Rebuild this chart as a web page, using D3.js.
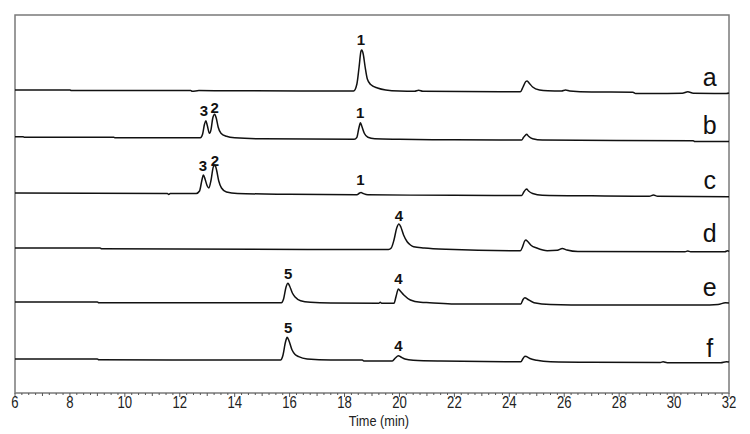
<!DOCTYPE html>
<html>
<head>
<meta charset="utf-8">
<script src="https://cdn.jsdelivr.net/npm/d3@7"></script>
<style>
  body { margin: 0; background: #fff; }
</style>
</head>
<body>
<script>
// trace names, top to bottom
const traceNames = ['a', 'b', 'c', 'd', 'e', 'f'];

// where each trace's baseline sits (signal units, 0 = bottom of frame)
const traceOffset = [303, 255.7, 200, 145, 91, 34];

// [time (min), signal above own baseline]
const traceA = [[6,0],[8,0],[8.05,-0.5],[12.4,-0.5],[12.45,-1.2],[12.7,-0.6],[16.4,-1],[18.33,-1],[18.45,6],[18.53,23],[18.6,39],[18.63,40],[18.68,36],[18.75,23],[18.83,11],[18.95,5.5],[19.2,2],[19.5,0],[20,-1],[20.55,-1.2],[20.7,-0.2],[20.85,-1.3],[23.7,-1.7],[24.4,-1.8],[24.5,3],[24.6,8.5],[24.65,9],[24.72,7],[24.85,3],[25.1,0],[25.4,-0.8],[25.9,-1],[26.05,0],[26.2,-1],[27,-2],[28.5,-2.2],[28.6,-3.5],[30.3,-3.3],[30.5,-1.8],[30.7,-3.3],[31.9,-3.5],[32,-3]];
const traceB = [[6,0.5],[6.3,0.5],[6.35,0],[9.6,0],[9.65,-0.5],[12.75,-0.5],[12.83,3],[12.9,13],[12.95,16.5],[13.0,12],[13.08,4],[13.14,8],[13.2,19],[13.27,23],[13.33,19],[13.4,10],[13.5,4],[13.7,1],[14.0,-0.5],[15,-1.5],[18.35,-2],[18.45,0],[18.52,9],[18.58,14.5],[18.63,11],[18.72,4],[18.85,0],[19.1,-1.5],[20,-2],[22,-2.5],[24.45,-2.8],[24.52,0],[24.6,2.5],[24.63,3],[24.7,1],[24.85,-1.5],[25.2,-2.8],[30.7,-3.5],[30.75,-4.2],[32,-4.2]];
const traceC = [[6,0],[11.55,-0.5],[11.6,-1.5],[11.65,-0.5],[12.6,-0.5],[12.72,2],[12.8,12],[12.86,18],[12.92,14],[13.0,7],[13.06,5],[13.14,13],[13.22,26],[13.28,28],[13.34,23],[13.42,12],[13.52,5],[13.7,1],[14.1,-0.5],[16,-1.3],[18.45,-1.8],[18.55,0],[18.6,0.5],[18.68,-0.5],[18.85,-1.8],[22,-2.3],[24.45,-2.5],[24.53,1],[24.6,3.5],[24.63,4],[24.7,2],[24.85,-0.5],[25.2,-2.2],[27,-2.8],[29.1,-3.2],[29.25,-2],[29.4,-3.2],[32,-3.7]];
const traceD = [[6,0],[9.1,0],[9.15,-0.7],[19.6,-1.5],[19.7,0],[19.8,8],[19.9,20],[19.98,24],[20.05,21],[20.15,13],[20.28,6.3],[20.4,3],[20.52,1.3],[20.9,0],[21.7,-1.3],[24.4,-2.7],[24.48,1],[24.55,6.5],[24.6,8],[24.67,6.5],[24.8,2.5],[25.0,0],[25.38,-2.7],[25.75,-2.3],[25.93,-0.5],[26.1,-2],[26.5,-3.5],[30.4,-3.8],[30.5,-3],[30.6,-3.8],[31.85,-3.8],[31.95,-2.7],[32,-3.5]];
const traceE = [[6,0],[9.0,0],[9.05,-0.7],[15.7,-0.7],[15.78,3],[15.87,15],[15.94,18.7],[16.0,16],[16.1,9],[16.2,5],[16.4,1.3],[16.76,-0.3],[17.5,-1],[19.25,-1.2],[19.3,-0.3],[19.35,-1.2],[19.8,-1.3],[19.88,6],[19.96,13],[20.03,11],[20.16,7],[20.4,2],[20.77,-0.3],[21.1,-0.7],[22,-2],[24.42,-2],[24.5,2.5],[24.57,4.3],[24.65,3],[24.9,-0.7],[25.5,-2.5],[27,-3],[31,-3],[31.6,-2.5],[31.87,-0.7],[32,-1]];
const traceF = [[6,0],[9.0,0],[9.05,-0.7],[15.67,-1],[15.75,3],[15.85,17],[15.91,21.7],[15.98,18],[16.09,9],[16.2,4.5],[16.33,2.3],[16.64,0],[17.5,-1],[18.65,-1],[18.7,-2],[19.74,-2],[19.85,1],[19.96,3.3],[20.05,2],[20.2,0],[20.5,-1.2],[21.5,-2],[24.42,-2.7],[24.5,0.5],[24.57,2.8],[24.62,2.5],[24.75,0.5],[25,-1.2],[25.5,-2.7],[27,-3.3],[29.5,-3.5],[29.6,-2.8],[29.75,-3.7],[31.7,-3.7],[31.9,-2.7],[32,-3]];
const traces = [traceA, traceB, traceC, traceD, traceE, traceF];

// peak numbers: [trace index, time, signal level of text baseline, text]
const peakLabels = [
    [0, 18.6, 45, '1'],
    [1, 12.88, 21.3, '3'], [1, 13.27, 24.6, '2'], [1, 18.57, 19.6, '1'],
    [2, 12.84, 22.3, '3'], [2, 13.28, 27, '2'], [2, 18.58, 8, '1'],
    [3, 19.98, 27.3, '4'],
    [4, 15.95, 22.7, '5'], [4, 19.96, 17.7, '4'],
    [5, 15.95, 26.3, '5'], [5, 19.96, 8, '4'],
];

// letter at the right end of each trace (signal level of text baseline)
const letterLevel = [4, 3.3, 4, 6.3, 6.3, 2.3];
const letterTime = 31.3;

const xTicks = [6, 8, 10, 12, 14, 16, 18, 20, 22, 24, 26, 28, 30, 32];

const W = 750, H = 434;
const plotLeft = 15, plotRight = 729, plotTop = 15, plotBottom = 393;
// the original axis font is a condensed sans; squeeze Liberation Sans to match
const squeeze = 0.82;

const svg = d3.select('body')
    .append('svg')
    .attr('width', W)
    .attr('height', H);

const x = d3.scaleLinear().domain([6, 32]).range([plotLeft, plotRight]);
const y = d3.scaleLinear().domain([0, plotBottom - plotTop]).range([plotBottom, plotTop]);

// frame
svg.append('rect')
    .attr('x', plotLeft)
    .attr('y', plotTop)
    .attr('width', plotRight - plotLeft)
    .attr('height', plotBottom - plotTop)
    .attr('fill', 'none')
    .attr('stroke', '#7a7a7a')
    .attr('stroke-width', 1.5);

// minor ticks every 0.25 min, integer ticks a bit longer
const axisG = svg.append('g').attr('transform', `translate(0,${plotBottom})`);
axisG.selectAll('line')
    .data(d3.range(6, 32.001, 0.25))
    .join('line')
    .attr('x1', d => x(d))
    .attr('x2', d => x(d))
    .attr('y1', 0)
    .attr('y2', d => Math.abs(d - Math.round(d)) < 1e-6 ? (Math.round(d) % 2 === 0 ? 4 : 3) : 2)
    .attr('stroke', '#555')
    .attr('stroke-width', 1);

axisG.selectAll('text')
    .data(xTicks)
    .join('text')
    .attr('transform', d => `translate(${x(d)},15) scale(${squeeze},1)`)
    .attr('text-anchor', 'middle')
    .style('font-family', '"Liberation Sans", Arial, sans-serif')
    .style('font-size', '16px')
    .attr('fill', '#222')
    .text(d => d);

svg.append('text')
    .attr('transform', `translate(${x(19.25)},426) scale(0.85,1)`)
    .attr('text-anchor', 'middle')
    .style('font-family', '"Liberation Sans", Arial, sans-serif')
    .style('font-size', '15px')
    .attr('fill', '#222')
    .text('Time (min)');

// traces
traces.forEach((pts, i) => {
    const line = d3.line()
        .x(d => x(d[0]))
        .y(d => y(traceOffset[i] + d[1]))
        .curve(d3.curveMonotoneX);

    svg.append('path')
        .datum(pts)
        .attr('d', line)
        .attr('fill', 'none')
        .attr('stroke', '#111')
        .attr('stroke-width', 1.5);

    svg.append('text')
        .attr('x', x(letterTime))
        .attr('y', y(traceOffset[i] + letterLevel[i]))
        .attr('text-anchor', 'middle')
        .style('font-family', '"Liberation Sans", Arial, sans-serif')
        .style('font-size', '25px')
        .attr('fill', '#111')
        .text(traceNames[i]);
});

// peak numbers
svg.selectAll('.peak-label')
    .data(peakLabels)
    .join('text')
    .attr('class', 'peak-label')
    .attr('x', d => x(d[1]))
    .attr('y', d => y(traceOffset[d[0]] + d[2]))
    .attr('text-anchor', 'middle')
    .style('font-family', '"Liberation Sans", Arial, sans-serif')
    .style('font-size', '15px')
    .style('font-weight', 'bold')
    .attr('fill', '#111')
    .text(d => d[3]);
</script>
</body>
</html>
